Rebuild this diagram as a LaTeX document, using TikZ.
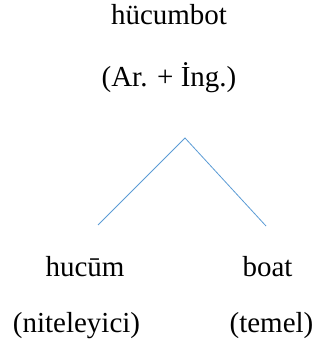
\documentclass[tikz,border=0pt]{standalone}
\usepackage{fontspec}
\setmainfont{Liberation Serif}
\definecolor{linkblue}{RGB}{91,155,213}
\begin{document}
\begin{tikzpicture}[x=1pt,y=-1pt,
  lbl/.style={inner sep=0pt,anchor=base,font=\fontsize{29}{34}\selectfont},
  branch/.style={draw=linkblue,line width=0.8pt}]
\useasboundingbox (0,0) rectangle (326,347);
\node[lbl] (word) at (169,25) {hücumbot};
\node[lbl] (origin) at (169,87) {(Ar. + İng.)};
\coordinate (apex) at (185,138);
\coordinate (lend) at (98,225);
\coordinate (rend) at (266,226);
\node[lbl] (hucum) at (85,276) {hucūm};
\node[lbl] (boat) at (267.5,276) {boat};
\node[lbl] (nit) at (76.5,332) {(niteleyici)};
\node[lbl] (temel) at (271.5,332) {(temel)};
\draw[branch] (lend) -- (apex) -- (rend);
\end{tikzpicture}
\end{document}
